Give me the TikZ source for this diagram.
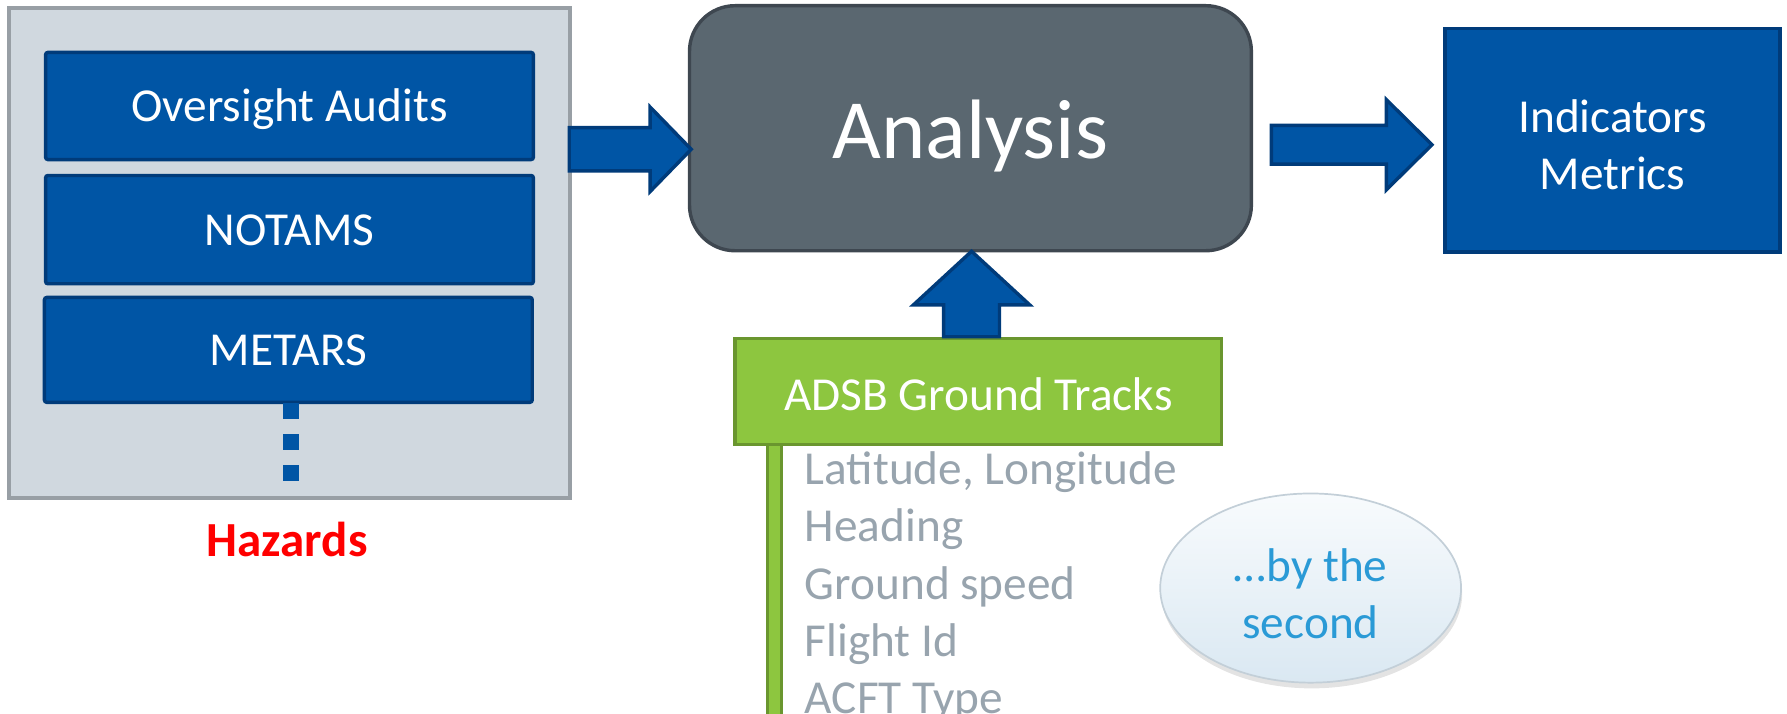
\documentclass[tikz,border=0pt]{standalone}
\usepackage{fontspec}
\setmainfont{Carlito}
\usetikzlibrary{calc,shadows,shapes.geometric}
\definecolor{bluefill}{HTML}{0055A5}
\definecolor{bluedark}{HTML}{003B7A}
\definecolor{anafill}{HTML}{5A6770}
\definecolor{anadark}{HTML}{3E4750}
\definecolor{hazfill}{HTML}{D0D8DF}
\definecolor{hazdark}{HTML}{989FA5}
\definecolor{grnfill}{HTML}{8DC63F}
\definecolor{grndark}{HTML}{6A962F}
\definecolor{listgray}{HTML}{98A4AE}
\definecolor{elltext}{HTML}{2A9AD6}
\definecolor{elltop}{HTML}{F8FBFD}
\definecolor{ellbot}{HTML}{DAE8F2}
\definecolor{elldraw}{HTML}{C3CFD8}
\newcommand\mytxt{\fontsize{41.5pt}{50pt}\selectfont}
\newcommand\myhztxt{\fontsize{43pt}{50pt}\selectfont}
\newcommand\mybigtxt{\fontsize{74pt}{80pt}\selectfont}
\tikzset{
  bluebox/.style={draw=bluedark, fill=bluefill, line width=3pt, rounded corners=2pt,
    text=white, font=\mytxt, inner sep=0pt, minimum width=428pt,
    text height=27pt, text depth=0pt},
  blockarrow/.style={draw=bluedark, fill=bluefill, line width=3pt, line join=miter},
  dotsq/.style={fill=bluefill, inner sep=0pt, minimum size=14pt},
  listtxt/.style={text=listgray, font=\mytxt, inner sep=0pt, anchor=base west},
}
\begin{document}
\begin{tikzpicture}[x=1pt,y=-1pt]
\useasboundingbox (0,0) rectangle (1568,626);

% Hazards container
\node (haz) [draw=hazdark, fill=hazfill, line width=3pt, minimum width=492pt, minimum height=430pt, inner sep=0pt] at (254,222) {};
\node (oa) [bluebox, minimum height=94pt] at (254,93) {Oversight Audits};
\node (no) [bluebox, minimum height=95pt] at (254,201.5) {NOTAMS};
\node (me) [bluebox, minimum height=92pt] at (253,307) {METARS};
\node (d1) [dotsq] at (255,361) {};
\node (d2) [dotsq] at (255,388) {};
\node (d3) [dotsq] at (255,415) {};
\node (hzl) [text=red, font=\myhztxt\bfseries, inner sep=0pt, anchor=base] at (252,488) {Hazards};

% Analysis
\node (ana) [draw=anadark, fill=anafill, line width=3pt, rounded corners=40pt,
  minimum width=493pt, minimum height=215pt, inner sep=0pt, text=white,
  font=\mybigtxt, text height=53pt, text depth=0pt] at (851.5,112.5) {Analysis};

% Indicators
\node (ind) [draw=bluedark, fill=bluefill, line width=3pt, minimum width=294pt,
  minimum height=196pt, inner sep=0pt] at (1415,123) {};
\node (indt) [text=white, font=\mytxt, align=center, inner sep=0pt] at ($(ind.center)+(0,4)$) {Indicators\\Metrics};

% ADSB
\node (bar) [draw=grndark, fill=grnfill, line width=2.5pt, minimum width=12pt, minimum height=260pt, inner sep=0pt] at (679.5,520) {};
\node (adsb) [draw=grndark, fill=grnfill, line width=3pt, minimum width=427pt, minimum height=93pt,
  inner sep=0pt, text=white, font=\mytxt, text height=33pt, text depth=0pt] at (858.5,343.5) {ADSB Ground Tracks};
\node (l1) [listtxt] at (706,425) {Latitude, Longitude};
\node (l2) [listtxt] at (706,475.5) {Heading};
\node (l3) [listtxt] at (706,526) {Ground speed};
\node (l4) [listtxt] at (706,576) {Flight Id};
\node (l5) [listtxt] at (706,626) {ACFT Type};

% Ellipse
\node (ell) [ellipse, draw=elldraw, line width=1.5pt, top color=elltop, bottom color=ellbot,
  minimum width=264pt, minimum height=166pt, inner sep=0pt,
  drop shadow={opacity=0.22, shadow xshift=1pt, shadow yshift=-5pt}] at (1150,516) {};
\node (ellt) [text=elltext, font=\mytxt, align=center, inner sep=0pt] at ($(ell.center)+(0,5)$) {…by the\\second};

% Arrow hazards -> analysis
\coordinate (a1s) at ($(haz.east |- 0,131)+(-2,0)$);
\coordinate (a1t) at ($(ana.west |- 0,131)+(3,0)$);
\draw[blockarrow] ($(a1s)+(0,-19)$) -- ($(a1t)+(-36,-19)$) -- ($(a1t)+(-36,-37)$) -- (a1t)
  -- ($(a1t)+(-36,37)$) -- ($(a1t)+(-36,19)$) -- ($(a1s)+(0,19)$) -- cycle;

% Arrow analysis -> indicators
\coordinate (a2s) at ($(ana.east |- 0,127)+(16,0)$);
\coordinate (a2t) at ($(ind.west |- 0,127)+(-10,0)$);
\draw[blockarrow] ($(a2s)+(0,-17)$) -- ($(a2t)+(-40,-17)$) -- ($(a2t)+(-40,-39.5)$) -- (a2t)
  -- ($(a2t)+(-40,39.5)$) -- ($(a2t)+(-40,17)$) -- ($(a2s)+(0,17)$) -- cycle;

% Arrow adsb -> analysis
\coordinate (a3t) at ($(ana.south)+(1,-1)$);
\coordinate (a3s) at (a3t |- adsb.north);
\draw[blockarrow] ($(a3s)+(-24.5,0)$) -- ($(a3t)+(-24.5,47)$) -- ($(a3t)+(-51,47)$) -- (a3t)
  -- ($(a3t)+(51,47)$) -- ($(a3t)+(24.5,47)$) -- ($(a3s)+(24.5,0)$) -- cycle;
\end{tikzpicture}
\end{document}
